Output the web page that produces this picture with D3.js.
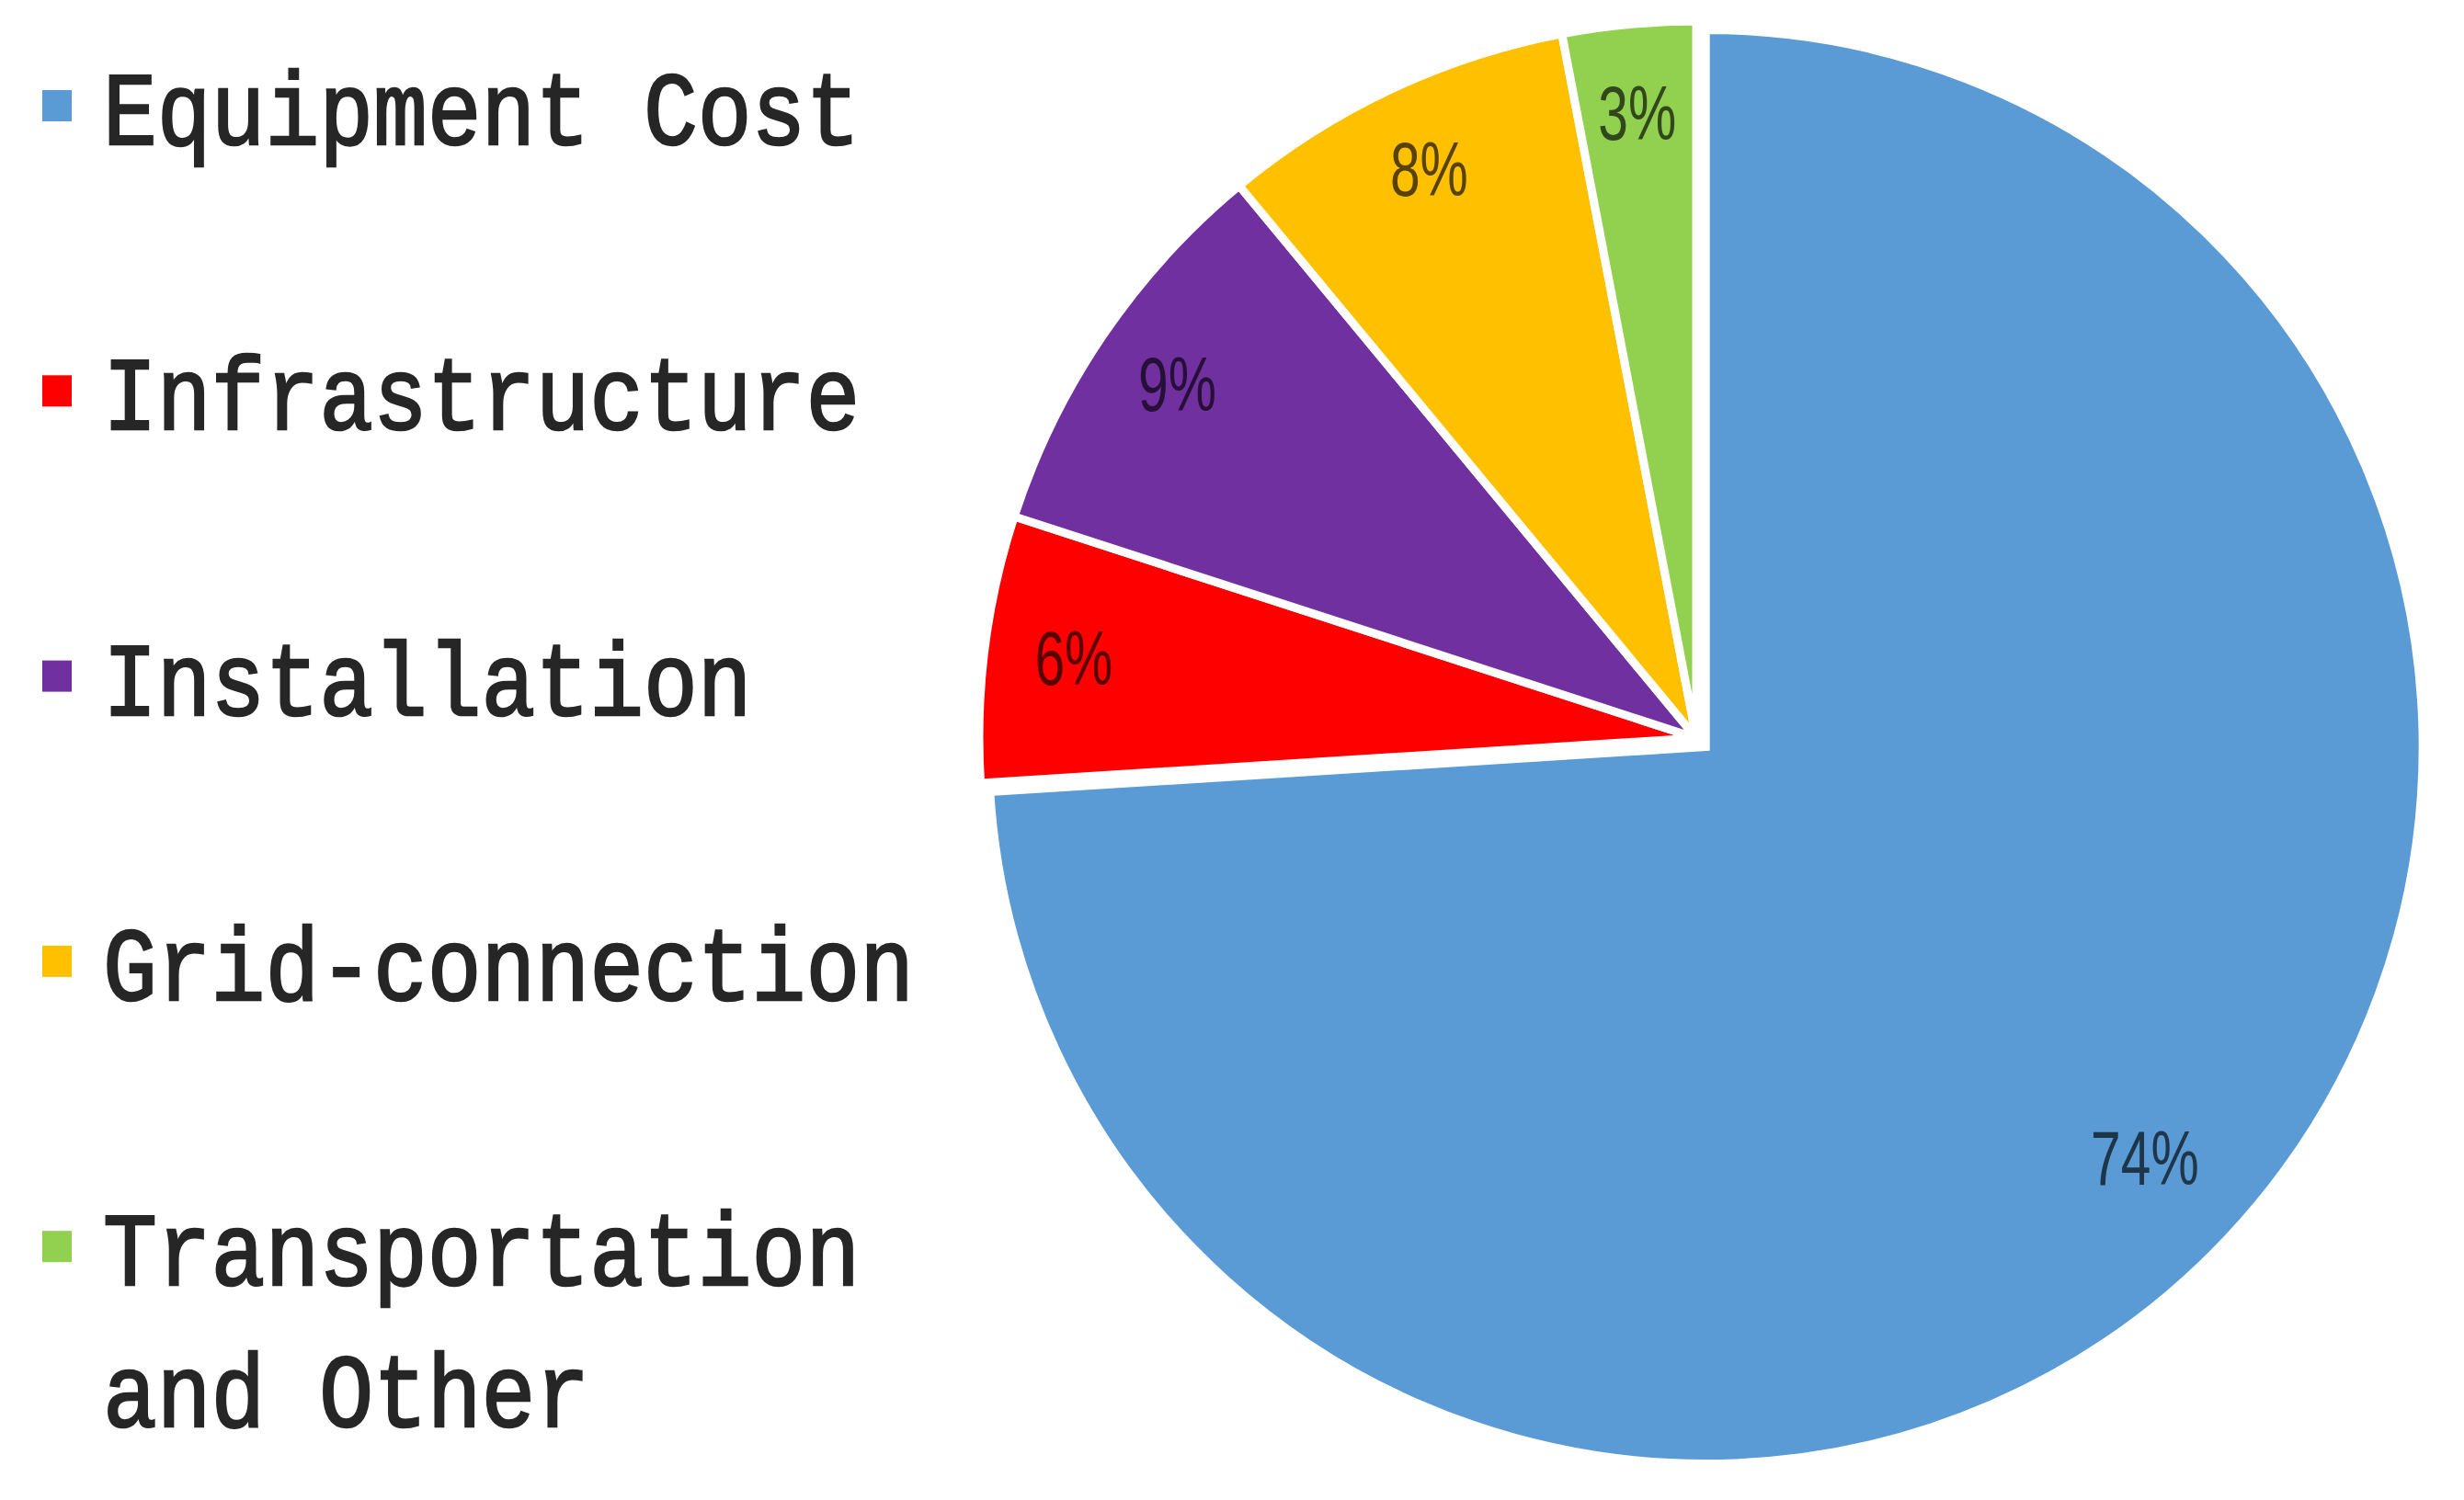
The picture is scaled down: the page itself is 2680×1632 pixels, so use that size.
<!DOCTYPE html>
<html>
<head>
<meta charset="utf-8">
<script src="https://cdn.jsdelivr.net/npm/d3@7"></script>
<style>
  html, body { margin: 0; padding: 0; background: #ffffff; }
  svg { display: block; }
</style>
</head>
<body>
<script>
// ---- data ----
const categories = ["Equipment Cost", "Infrastructure", "Installation", "Grid-connection", "Transportation and Other"];
const legendLines = [["Equipment Cost"], ["Infrastructure"], ["Installation"], ["Grid-connection"], ["Transportation", "and Other"]];
const values = [74, 6, 9, 8, 3];
const percentLabels = ["74%", "6%", "9%", "8%", "3%"];
const colors = ["#5B9BD5", "#FF0000", "#7030A0", "#FFC000", "#92D050"];
const exploded = [14, 0, 0, 0, 0];

// ---- layout ----
const W = 2680, H = 1632;
const cx = 1845, cy = 803, R = 780;

const svg = d3.select("body").append("svg")
  .attr("width", W).attr("height", H)
  .attr("viewBox", `0 0 ${W} ${H}`);
svg.append("rect").attr("width", W).attr("height", H).attr("fill", "#ffffff");

const data = categories.map((c, i) => ({ name: c, value: values[i], label: percentLabels[i], color: colors[i], explode: exploded[i] }));

const pie = d3.pie().sort(null).value(d => d.value).startAngle(0).endAngle(2 * Math.PI);
const arcs = pie(data);
const arc = d3.arc().innerRadius(0).outerRadius(R);

const g = svg.append("g").attr("transform", `translate(${cx},${cy})`);

const slice = g.selectAll("g.slice").data(arcs).enter().append("g")
  .attr("class", "slice")
  .attr("transform", d => {
    const mid = (d.startAngle + d.endAngle) / 2;
    const off = d.data.explode;
    return `translate(${Math.sin(mid) * off},${-Math.cos(mid) * off})`;
  });

slice.append("path")
  .attr("d", arc)
  .attr("fill", d => d.data.color)
  .attr("stroke", "#ffffff")
  .attr("stroke-width", 9)
  .attr("stroke-linejoin", "miter");

// percentage labels
const labelFontSize = 84;
slice.append("text")
  .attr("transform", d => {
    const mid = (d.startAngle + d.endAngle) / 2;
    const f = d.data.explode > 0 ? 0.84 : 0.875;
    const x = Math.sin(mid) * R * f;
    const y = -Math.cos(mid) * R * f;
    return `translate(${x},${y + 28}) scale(0.70,1)`;
  })
  .attr("text-anchor", "middle")
  .attr("font-family", "'Liberation Sans', Arial, sans-serif")
  .attr("font-size", labelFontSize)
  .attr("fill", d => d3.color(d.data.color).darker(3).formatHex())
  .text(d => d.data.label);

// legend
const legend = svg.append("g");
const rowStart = 157, rowGap = 310.3, lineGap = 154;
const item = legend.selectAll("g.item").data(data).enter().append("g")
  .attr("class", "item")
  .attr("transform", (d, i) => `translate(0,${rowStart + i * rowGap})`);

item.append("rect")
  .attr("x", 46).attr("y", -59)
  .attr("width", 32).attr("height", 34)
  .attr("fill", d => d.color);

item.each(function(d, i) {
  const lines = legendLines[i];
  lines.forEach((ln, j) => {
    d3.select(this).append("text")
      .attr("transform", `translate(112,${j * lineGap}) scale(1,1.16)`)
      .attr("font-family", "'Liberation Mono', 'Courier New', monospace")
      .attr("font-size", 98)
      .attr("fill", "#262626")
      .attr("stroke", "#262626")
      .attr("stroke-width", 2.2)
      .text(ln);
  });
});
</script>
</body>
</html>
